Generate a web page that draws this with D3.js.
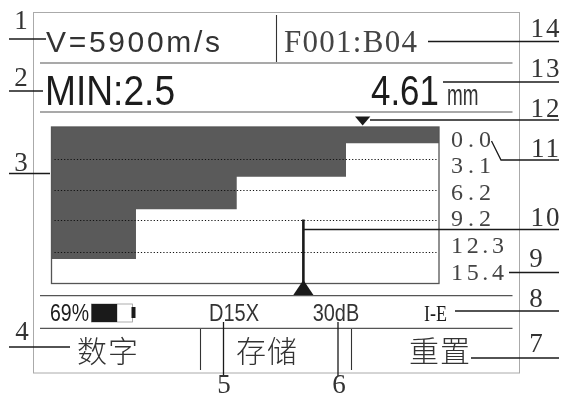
<!DOCTYPE html>
<html>
<head>
<meta charset="utf-8">
<script src="https://cdn.jsdelivr.net/npm/d3@7"></script>
<style>
  html, body { margin: 0; padding: 0; background: #fff; }
  svg { display: block; filter: blur(0.35px); }
  text { fill: #1c1c1c; }
  .sans { font-family: "Liberation Sans", sans-serif; }
  .serif { font-family: "Liberation Serif", serif; }
  .cjk { font-family: "Noto Sans CJK SC", sans-serif; font-weight: 300; }
</style>
</head>
<body>
<svg id="screen" width="563" height="400"></svg>
<script>
// wall thickness profile, x is percent along the scan, depth is in mm
var scanPos = [0, 21.8, 47.8, 76, 100];
var scanDepth = [13.0, 8.1, 4.9, 1.6, 1.6];
var depthTicks = [3.1, 6.2, 9.2, 12.3];
var depthLabels = ["0.0", "3.1", "6.2", "9.2", "12.3", "15.4"];
var depthMax = 15.4;
var cursorPos = 65;
var cursorDepth = 9.2;
var topMarkerPos = 80.3;
var batteryPct = 69;
var menuLabels = ["数字", "存储", "重置"];

var svg = d3.select("#screen");

var x = d3.scaleLinear().domain([0, 100]).range([51.5, 439]),
    y = d3.scaleLinear().domain([0, depthMax]).range([127, 283.5]),
    labelY = d3.scalePoint().domain(depthLabels).range([146, 279]),
    batt = d3.scaleLinear().domain([0, 100]).range([91.5, 128.7]);

// outer frame
svg.append("rect").attr("x", 33.5).attr("y", 12.5).attr("width", 486).attr("height", 360.5)
  .attr("fill", "none").attr("stroke", "#aaa").attr("stroke-width", 1);

// panel dividers
[63, 112, 295.7, 328.3].forEach(function(yy) {
  svg.append("line").attr("x1", 40).attr("x2", 512.5).attr("y1", yy).attr("y2", yy)
    .attr("stroke", "#555").attr("stroke-width", 1.2);
});
[[276.5, 15, 62], [200.5, 329, 370], [351.5, 329, 370]].forEach(function(v) {
  svg.append("line").attr("x1", v[0]).attr("x2", v[0]).attr("y1", v[1]).attr("y2", v[2])
    .attr("stroke", "#333").attr("stroke-width", 1.1);
});

function label(txt, cls, px, py, size, len, adjust) {
  var t = svg.append("text").attr("class", cls).attr("x", px).attr("y", py)
    .attr("font-size", size).text(txt);
  if (len) t.attr("textLength", len).attr("lengthAdjust", adjust || "spacing");
  return t;
}

// squeezed sideways with a transform, so the box of the text stays narrow too
function squeezed(txt, cls, px, py, size, sx) {
  return svg.append("text").attr("class", cls)
    .attr("transform", "translate(" + px + "," + py + ") scale(" + sx + ",1)")
    .attr("font-size", size).text(txt);
}

// header readings
label("V=5900m/s", "sans", 46, 51.5, 30, 174).style("fill", "#333");
label("F001:B04", "serif", 284, 52, 31, 133).style("fill", "#444");
squeezed("MIN:2.5", "sans", 45, 105, 42, 0.885);
squeezed("4.61", "sans", 371, 105, 42, 0.83);
squeezed("mm", "sans", 447, 105, 30, 0.63).style("fill", "#333");

// dark profile area
var area = d3.area()
  .curve(d3.curveStepAfter)
  .x(function(d) { return x(d.pos); })
  .y0(y(0))
  .y1(function(d) { return y(d.depth); });

var profile = scanPos.map(function(p, i) { return {pos: p, depth: scanDepth[i]}; });

var plot = svg.append("g");
plot.append("path").attr("d", area(profile)).attr("fill", "#5a5a5a");

plot.selectAll(".grid").data(depthTicks).enter().append("line")
  .attr("class", "grid")
  .attr("x1", x(0) + 3).attr("x2", x(100) - 1)
  .attr("y1", function(d) { return Math.round(y(d)) + 0.5; })
  .attr("y2", function(d) { return Math.round(y(d)) + 0.5; })
  .attr("stroke", "#111").attr("stroke-width", 1.2)
  .attr("stroke-dasharray", "1.2,2");

plot.append("rect").attr("x", x(0)).attr("y", y(0))
  .attr("width", x(100) - x(0)).attr("height", y(depthMax) - y(0))
  .attr("fill", "none").attr("stroke", "#555").attr("stroke-width", 1.3);

// depth labels sit on their own spacing, not on the grid lines
var axis = d3.axisRight(labelY).tickSize(0).tickPadding(0);
var axisG = svg.append("g").attr("transform", "translate(451,0)").call(axis);
axisG.select(".domain").remove();
axisG.selectAll("text")
  .attr("class", "serif")
  .attr("dy", 0)
  .attr("font-size", 24)
  .attr("textLength", function(d) { return d.length > 3 ? 53 : 40; })
  .attr("lengthAdjust", "spacing")
  .style("fill", "#444");

// cursor and markers
svg.append("line").attr("x1", x(cursorPos)).attr("x2", x(cursorPos))
  .attr("y1", y(cursorDepth) - 1).attr("y2", y(depthMax))
  .attr("stroke", "#1a1a1a").attr("stroke-width", 2.6);

var tri = d3.symbol().type(d3.symbolTriangle).size(150);
svg.append("path").attr("d", tri())
  .attr("transform", "translate(" + x(cursorPos) + "," + 290 + ") scale(1.08,0.93)")
  .attr("fill", "#1a1a1a");
svg.append("path").attr("d", tri())
  .attr("transform", "translate(" + x(topMarkerPos) + "," + 119.4 + ") scale(0.82,-0.56)")
  .attr("fill", "#1a1a1a");

// status row
label(batteryPct + "%", "sans", 50, 320.7, 24, 39, "spacingAndGlyphs");
svg.append("rect").attr("x", batt(0)).attr("y", 304).attr("width", 41).attr("height", 18)
  .attr("fill", "#fff").attr("stroke", "#999").attr("stroke-width", 0.8);
svg.append("rect").attr("x", batt(0)).attr("y", 304)
  .attr("width", batt(batteryPct) - batt(0)).attr("height", 18).attr("fill", "#1a1a1a");
svg.append("rect").attr("x", 131.5).attr("y", 307).attr("width", 4).attr("height", 11).attr("fill", "#1a1a1a");
label("D15X", "sans", 209, 320.7, 24, 50, "spacingAndGlyphs").style("fill", "#333");
label("30dB", "sans", 312.7, 320.7, 24, 46.5, "spacingAndGlyphs").style("fill", "#333");
label("I-E", "serif", 424, 320.7, 24, 23, "spacingAndGlyphs");

// soft keys
var menuX = [77, 236, 409];
menuLabels.forEach(function(m, i) {
  label(m, "cjk", menuX[i], 362, 30, 61).style("fill", "#333");
});

// numbered callouts
var callout = d3.line();
function note(num, pts, lx, ly) {
  svg.append("path").attr("d", callout(pts)).attr("fill", "none")
    .attr("stroke", "#1a1a1a").attr("stroke-width", 1.3);
  svg.append("text").attr("class", "serif").attr("x", lx).attr("y", ly)
    .attr("font-size", 27).attr("text-anchor", "middle")
    .attr("letter-spacing", num.length > 1 ? 2 : 0)
    .style("fill", "#333").text(num);
}
note("1", [[9, 39], [46, 39]], 21, 29);
note("2", [[9, 91], [43, 91]], 21, 86);
note("3", [[9, 173.5], [50, 173.5]], 21, 171);
note("4", [[9, 347], [70, 347]], 22, 340);
note("5", [[223.5, 322], [223.5, 376]], 224, 393);
note("6", [[338, 322], [338, 376]], 339, 393);
note("7", [[471, 358], [559, 358]], 536, 352);
note("8", [[455, 311], [559, 311]], 536, 307);
note("9", [[509, 272.5], [559, 272.5]], 536, 267);
note("10", [[x(cursorPos), 229.5], [559, 229.5]], 546, 226);
note("11", [[491.5, 141], [501, 160], [559, 160]], 546, 157);
note("12", [[370, 120], [559, 120]], 546, 117);
note("13", [[443, 82], [559, 82]], 546, 77);
note("14", [[428, 41.5], [559, 41.5]], 546, 37);
</script>
</body>
</html>
